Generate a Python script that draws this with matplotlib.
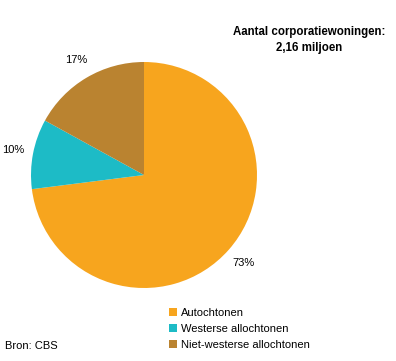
import matplotlib
matplotlib.use("Agg")
import matplotlib.pyplot as plt
from matplotlib.patches import Patch

plt.rcParams['font.family'] = ['Liberation Sans', 'DejaVu Sans']

# data
categories = ['Autochtonen', 'Westerse allochtonen', 'Niet-westerse allochtonen']
shares = [73, 10, 17]
colors = ['#F7A51E', '#1DBBC6', '#BA8330']
title = 'Aantal corporatiewoningen:\n2,16 miljoen'
source = 'Bron: CBS'

fig = plt.figure(figsize=(3.96, 3.61), dpi=100)
ax = fig.add_axes([144/396 - 113/396, 186/361 - 113/361, 226/396, 226/361])
wedges, texts, autotexts = ax.pie(shares, colors=colors, startangle=90, counterclock=False,
                                  autopct='%d%%', pctdistance=1.18,
                                  wedgeprops=dict(linewidth=0),
                                  textprops=dict(fontsize=8, color='black'))
ax.set_xlim(-1, 1)
ax.set_ylim(-1, 1)
ax.set_aspect('equal')

fig.text(309/396, 1 - 40/361, title, ha='center', va='center', fontsize=8.3,
         fontweight='bold', linespacing=1.4)
fig.text(5/396, 1 - 346/361, source, ha='left', va='center', fontsize=8)

handles = [Patch(facecolor=c, edgecolor='none') for c in colors]
fig.legend(handles, categories, loc='upper left', bbox_to_anchor=(169/396, 1 - 308/361),
           frameon=False, fontsize=8, handlelength=0.7, handleheight=0.7,
           handletextpad=0.35, labelspacing=0.55, borderpad=0, borderaxespad=0)

fig.savefig('out.png', dpi=100)
